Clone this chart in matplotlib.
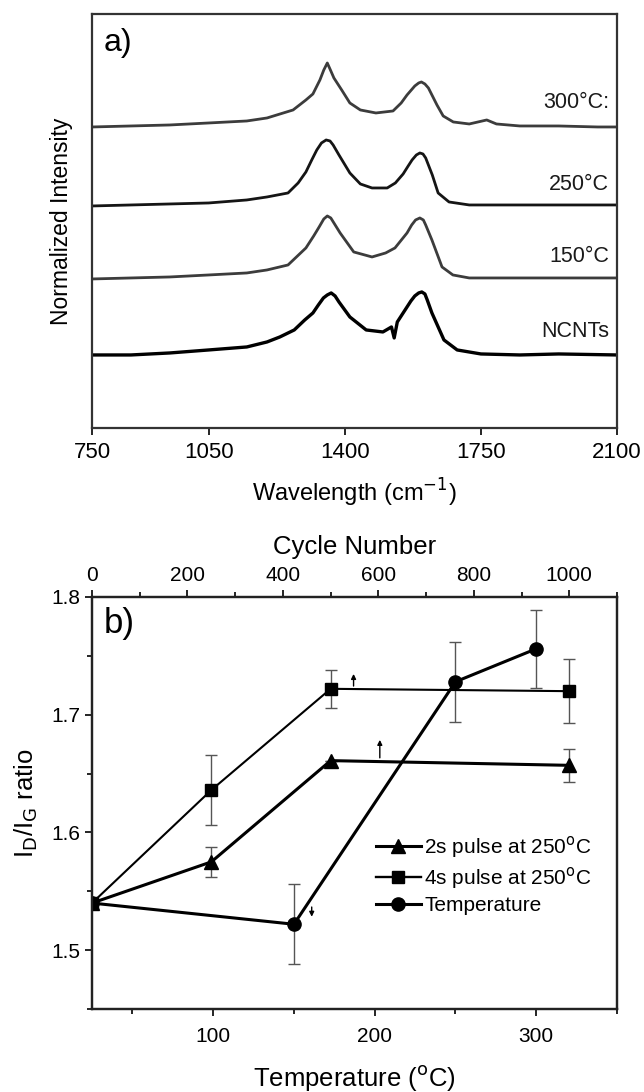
import numpy as np
import matplotlib.pyplot as plt
from matplotlib.ticker import MultipleLocator, FixedLocator
from matplotlib.lines import Line2D

plt.rcParams['font.family'] = ['Liberation Sans', 'DejaVu Sans']

# ---- panel a: Raman spectra (a.u.) ----
wn_300 = [750, 850, 950, 1050, 1148, 1200, 1267, 1300, 1318, 1336, 1346, 1355, 1363, 1372,
          1392, 1413, 1440, 1480, 1524, 1545, 1560, 1580, 1590, 1597, 1606, 1615, 1637, 1653,
          1679, 1720, 1765, 1790, 1850, 1950, 2050, 2100]
int_300 = [3.01, 3.02, 3.03, 3.05, 3.07, 3.10, 3.18, 3.28, 3.34, 3.48, 3.58, 3.65, 3.58, 3.50,
           3.38, 3.25, 3.18, 3.15, 3.17, 3.25, 3.33, 3.42, 3.45, 3.46, 3.44, 3.40, 3.23, 3.12,
           3.06, 3.04, 3.08, 3.04, 3.02, 3.02, 3.01, 3.01]

wn_250 = [750, 850, 950, 1050, 1148, 1200, 1254, 1280, 1300, 1315, 1328, 1340, 1352, 1362,
          1370, 1385, 1413, 1440, 1470, 1509, 1530, 1550, 1563, 1573, 1584, 1593, 1601, 1608,
          1625, 1640, 1668, 1720, 1850, 2100]
int_250 = [2.22, 2.23, 2.24, 2.25, 2.28, 2.31, 2.35, 2.45, 2.56, 2.68, 2.78, 2.85, 2.88, 2.87,
           2.83, 2.73, 2.55, 2.44, 2.40, 2.40, 2.45, 2.54, 2.62, 2.68, 2.73, 2.75, 2.74, 2.70,
           2.53, 2.35, 2.26, 2.23, 2.23, 2.23]

wn_150 = [750, 850, 950, 1050, 1148, 1200, 1254, 1300, 1320, 1334, 1346, 1355, 1364, 1372,
          1388, 1423, 1470, 1505, 1529, 1560, 1572, 1582, 1593, 1602, 1608, 1624, 1650, 1678,
          1720, 1850, 2100]
int_150 = [1.49, 1.50, 1.51, 1.53, 1.55, 1.58, 1.63, 1.80, 1.92, 2.01, 2.09, 2.12, 2.10, 2.05,
           1.95, 1.76, 1.71, 1.75, 1.80, 1.95, 2.03, 2.08, 2.10, 2.08, 2.03, 1.88, 1.61, 1.53,
           1.50, 1.50, 1.50]

wn_ncnt = [750, 850, 950, 1050, 1148, 1200, 1233, 1270, 1297, 1318, 1332, 1345, 1355, 1365,
           1375, 1385, 1413, 1455, 1498, 1520, 1527, 1535, 1555, 1570, 1580, 1590, 1598, 1606,
           1612, 1624, 1655, 1689, 1750, 1850, 1950, 2100]
int_ncnt = [0.73, 0.73, 0.75, 0.78, 0.81, 0.86, 0.91, 0.98, 1.08, 1.15, 1.23, 1.30, 1.33, 1.35,
            1.32, 1.26, 1.11, 0.98, 0.96, 1.01, 0.90, 1.06, 1.18, 1.27, 1.32, 1.35, 1.36, 1.34,
            1.28, 1.15, 0.88, 0.78, 0.74, 0.73, 0.74, 0.73]

spec_labels = ['300°C:', '250°C', '150°C', 'NCNTs']
label_y = [3.25, 2.43, 1.71, 0.96]
wn_ticks = [750, 1050, 1400, 1750, 2100]

# ---- panel b: ID/IG ratio ----
pulse_cycles = [0, 250, 500, 1000]
ratio_2s = [1.54, 1.575, 1.661, 1.657]
err_2s = [0, 0.013, 0, 0.014]
ratio_4s = [1.54, 1.636, 1.722, 1.720]
err_4s = [0, 0.030, 0.016, 0.027]
temps = [25, 150, 250, 300]
ratio_temp = [1.54, 1.522, 1.728, 1.756]
err_temp = [0, 0.034, 0.034, 0.033]

fig = plt.figure(figsize=(6.44, 10.92), dpi=100)

# ---------------- a) ----------------
ax1 = fig.add_axes([0.1429, 0.6081, 0.8152, 0.3791])
ax1.plot(wn_300, int_300, color='#3c3c3c', lw=2.0)
ax1.plot(wn_250, int_250, color='#151515', lw=2.0)
ax1.plot(wn_150, int_150, color='#3c3c3c', lw=2.0)
ax1.plot(wn_ncnt, int_ncnt, color='black', lw=2.4)
for lab, yy in zip(spec_labels, label_y):
    ax1.text(2080, yy, lab, ha='right', va='center', fontsize=15.5, color='#1a1a1a')
ax1.set_xlim(750, 2100)
ax1.set_ylim(0, 4.14)
ax1.set_xticks(wn_ticks)
ax1.set_yticks([])
ax1.tick_params(axis='x', direction='out', length=5, width=1.2, labelsize=16, pad=5)
ax1.set_xlabel('Wavelength (cm$^{-1}$)', fontsize=17, labelpad=10)
ax1.set_ylabel('Normalized Intensity', fontsize=16.5, labelpad=14)
ax1.text(0.023, 0.965, 'a)', transform=ax1.transAxes, fontsize=23, va='top', ha='left')
for s in ax1.spines.values():
    s.set_linewidth(1.6)
    s.set_color('#333333')

# ---------------- b) ----------------
ax = fig.add_axes([0.1429, 0.0760, 0.8152, 0.3773])
ax2 = ax.twiny()

ax.errorbar(temps, ratio_temp, yerr=err_temp, color='black', lw=2.2, marker='o', ms=9.5,
            ecolor='#555555', elinewidth=1.0, capsize=4, capthick=1.0)
ax2.errorbar(pulse_cycles, ratio_2s, yerr=err_2s, color='black', lw=2.2, marker='^', ms=9.5,
             ecolor='#555555', elinewidth=1.0, capsize=4, capthick=1.0)
ax2.errorbar(pulse_cycles, ratio_4s, yerr=err_4s, color='black', lw=1.5, marker='s', ms=8.5,
             ecolor='#555555', elinewidth=1.0, capsize=4, capthick=1.0)

# arrows telling which axis each series uses
ax2.annotate('', xy=(548, 1.737), xytext=(548, 1.722),
             arrowprops=dict(arrowstyle='-|>', color='black', lw=1.0, mutation_scale=7))
ax2.annotate('', xy=(603, 1.681), xytext=(603, 1.661),
             arrowprops=dict(arrowstyle='-|>', color='black', lw=1.0, mutation_scale=7))
ax.annotate('', xy=(161, 1.526), xytext=(161, 1.539),
            arrowprops=dict(arrowstyle='-|>', color='black', lw=1.0, mutation_scale=7))

ax.set_xlim(25, 350)
ax.set_ylim(1.45, 1.8)
ax2.set_xlim(0, 1100)
ax.xaxis.set_major_locator(FixedLocator([100, 200, 300]))
ax.xaxis.set_minor_locator(FixedLocator([50, 150, 250, 350]))
ax.yaxis.set_major_locator(MultipleLocator(0.1))
ax.yaxis.set_minor_locator(MultipleLocator(0.05))
ax.yaxis.set_major_formatter(plt.FuncFormatter(lambda v, p: f'{v:.1f}'))
ax2.xaxis.set_major_locator(MultipleLocator(200))
ax2.xaxis.set_minor_locator(MultipleLocator(100))

for a in (ax, ax2):
    a.tick_params(which='major', direction='out', length=5, width=1.2, labelsize=15)
    a.tick_params(which='minor', direction='out', length=3.5, width=1.2)
ax.tick_params(axis='x', pad=8)

ax.set_xlabel('Temperature ($^{\\rm o}$C)', fontsize=18.5, labelpad=12)
ax2.set_xlabel('Cycle Number', fontsize=18.5, labelpad=9)
ax.set_ylabel('I$_{\\rm D}$/I$_{\\rm G}$ ratio', fontsize=18.5, labelpad=8)
ax.text(0.023, 0.975, 'b)', transform=ax.transAxes, fontsize=25, va='top', ha='left')

for a in (ax, ax2):
    for s in a.spines.values():
        s.set_linewidth(1.6)
        s.set_color('#222222')

leg_handles = [Line2D([], [], color='black', lw=2.2, marker='^', ms=9.5),
               Line2D([], [], color='black', lw=1.7, marker='s', ms=8.5),
               Line2D([], [], color='black', lw=2.2, marker='o', ms=9.5)]
leg_labels = ['2s pulse at 250$^{\\rm o}$C', '4s pulse at 250$^{\\rm o}$C', 'Temperature']
ax.legend(leg_handles, leg_labels, loc='upper left', bbox_to_anchor=(0.54, 0.425),
          frameon=False, fontsize=15, handlelength=2.2, handletextpad=0.15,
          labelspacing=0.25, borderpad=0, borderaxespad=0)

fig.savefig('out.png', dpi=100)
